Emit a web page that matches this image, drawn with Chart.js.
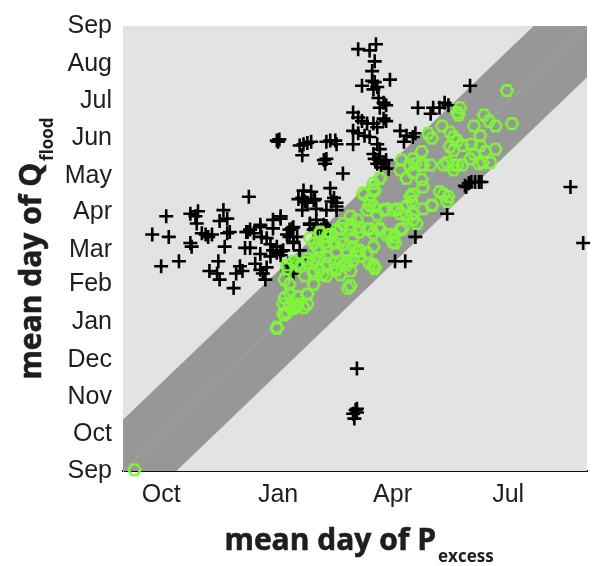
<!DOCTYPE html>
<html>
<head>
<meta charset="utf-8">
<script src="https://cdn.jsdelivr.net/npm/chart.js@4/dist/chart.umd.min.js"></script>
<style>
  body { margin: 0; background: #fff; }
  #wrap { width: 598px; height: 566px; position: relative; }
</style>
</head>
<body>
<div id="wrap"><canvas id="chart-area"></canvas></div>
<script>
// days counted from 1 Sep (water year)
var monthDays = [0, 30, 61, 91, 122, 153, 181, 212, 242, 273, 303, 334, 365];
var monthNames = ['Sep', 'Oct', 'Nov', 'Dec', 'Jan', 'Feb', 'Mar', 'Apr', 'May', 'Jun', 'Jul', 'Aug', 'Sep'];
var xTickDays = [30, 122, 212, 303];
var xTickNames = ['Oct', 'Jan', 'Apr', 'Jul'];

// half width of the grey band around the 1:1 line (days)
var bandHalfWidth = 42;

// black crosses: mean day of P_excess (x) vs mean day of Q_flood (y)
var crossX = [185, 199, 194, 198, 196, 188, 196, 198, 210, 200, 197, 201, 205, 207, 202, 181, 185, 188, 192, 197,
  200, 205, 207, 218, 223, 228, 221, 230, 232, 244, 242, 253, 249, 256, 273, 181, 185, 190, 194, 200,
  202, 197, 198, 202, 205, 207, 200, 203, 209, 173, 121, 123, 122, 139, 142, 145, 148, 141, 160, 163,
  167, 168, 181, 158, 160, 159, 34, 23, 36, 30, 44, 53, 59, 57, 58, 53, 54, 62, 65, 67,
  70, 79, 76, 82, 82, 84, 80, 75, 68, 74, 76, 87, 89, 92, 99, 97, 100, 103, 96, 108,
  109, 113, 118, 124, 121, 118, 121, 116, 124, 126, 108, 110, 113, 131, 134, 131, 134, 137, 139, 142,
  145, 148, 150, 141, 152, 163, 166, 168, 160, 168, 147, 150, 152, 158, 160, 156, 129, 134, 130, 230,
  255, 214, 222, 269, 272, 274, 277, 280, 282, 270, 352, 362, 184, 183, 184, 181, 184, 182,
  138, 143, 151, 164, 168, 141, 124, 118, 108, 98, 129, 133, 134, 124, 116, 108, 100, 94, 112, 104,
  147, 153, 161, 139, 130];
var crossY = [346, 350, 345, 336, 328, 316, 320, 319, 321, 315, 313, 306, 302, 300, 298, 294, 290, 287, 285, 285,
  282, 289, 287, 279, 275, 274, 270, 277, 298, 298, 293, 302, 298, 300, 316, 279, 277, 275, 274, 268,
  264, 260, 256, 258, 253, 255, 252, 249, 248, 244, 271, 272, 270, 267, 268, 269, 270, 259, 270, 271,
  271, 268, 268, 255, 256, 252, 209, 194, 192, 168, 172, 211, 213, 209, 203, 187, 184, 195, 194, 192,
  194, 214, 205, 207, 195, 196, 184, 172, 164, 162, 157, 150, 162, 168, 225, 196, 198, 195, 183, 200,
  192, 191, 206, 209, 184, 181, 179, 176, 177, 181, 165, 162, 167, 198, 200, 192, 187, 192, 181, 230,
  220, 229, 222, 224, 215, 232, 224, 220, 214, 214, 203, 198, 206, 202, 201, 198, 165, 162, 169, 192,
  211, 172, 172, 234, 236, 237, 237, 237, 237, 233, 233, 187, 84, 50, 51, 47, 48, 43,
  223, 221, 223, 221, 217, 214, 207, 199, 202, 196, 194, 199, 188, 180, 186, 178, 183, 164, 157, 170,
  202, 199, 199, 174, 170];

// green hexagons
var hexX = [9, 302, 306, 265, 263, 264, 251, 240, 243, 235, 257, 260, 263, 257, 260, 267, 276, 284, 288, 293,
  281, 274, 281, 285, 293, 289, 280, 276, 255, 260, 267, 260, 219, 225, 230, 235, 242, 218, 223, 228,
  235, 236, 249, 256, 243, 226, 227, 228, 231, 197, 202, 189, 198, 194, 197, 192, 200, 207, 213, 218,
  223, 179, 184, 173, 168, 179, 186, 192, 197, 202, 207, 213, 218, 214, 155, 160, 150, 155, 160, 166,
  171, 176, 181, 186, 192, 197, 129, 134, 139, 145, 150, 155, 160, 166, 171, 176, 181, 186, 168, 171,
  179, 198, 197, 127, 143, 150, 155, 160, 177, 131, 137, 145, 145, 126, 129, 134, 137, 127, 131, 121,
  189, 197, 202, 194, 205, 216, 223, 228, 220, 210, 202, 194, 186, 179, 181, 173, 168, 160, 153, 145,
  137, 129, 131, 127, 137, 142, 126, 121, 179, 198, 194, 212, 228, 236, 228, 236, 252, 263, 273, 283,
  243, 252, 255, 171, 163, 155, 147, 184, 176, 168, 160, 157, 150, 150, 145];
var hexY = [1, 312, 285, 298, 294, 292, 283, 277, 273, 262, 278, 274, 271, 266, 263, 267, 283, 292, 287, 283,
  275, 268, 267, 262, 264, 253, 252, 260, 253, 251, 251, 247, 255, 251, 252, 251, 251, 247, 240, 245,
  239, 233, 229, 225, 218, 225, 221, 211, 203, 236, 240, 228, 230, 222, 217, 214, 210, 215, 214, 211,
  217, 209, 206, 203, 198, 198, 200, 198, 195, 198, 194, 192, 198, 187, 195, 192, 187, 181, 184, 187,
  190, 181, 184, 181, 179, 184, 169, 172, 168, 171, 173, 175, 176, 171, 172, 169, 173, 176, 165, 161,
  164, 167, 169, 157, 160, 162, 165, 160, 150, 146, 143, 145, 137, 137, 130, 133, 135, 128, 135, 118,
  227, 231, 240, 218, 214, 215, 210, 206, 199, 194, 199, 199, 196, 202, 191, 186, 180, 188, 183, 174,
  170, 166, 153, 142, 137, 134, 129, 117, 152, 166, 170, 188, 227, 215, 256, 251, 251, 251, 256, 253,
  218, 227, 221, 199, 194, 196, 191, 180, 172, 166, 170, 161, 164, 153, 145];

var crossPoints = crossX.map(function(v, i) { return {x: v, y: crossY[i]}; });
var hexPoints = hexX.map(function(v, i) { return {x: v, y: hexY[i]}; });

var hexColor = '#80f53a';
function makeHexagon(r, lw, color) {
  var size = Math.ceil(2 * r + lw + 2);
  var c = document.createElement('canvas');
  c.width = size; c.height = size;
  var g = c.getContext('2d');
  g.strokeStyle = color;
  g.lineWidth = lw;
  g.lineJoin = 'miter';
  g.beginPath();
  for (var i = 0; i < 6; i++) {
    var a = Math.PI / 3 * i;
    var px = size / 2 + r * Math.cos(a), py = size / 2 + r * Math.sin(a);
    if (i === 0) g.moveTo(px, py); else g.lineTo(px, py);
  }
  g.closePath();
  g.stroke();
  return c;
}
var hexImg = makeHexagon(6, 2.4, hexColor);

var bandPlugin = {
  id: 'band',
  beforeDatasetsDraw: function(chart) {
    var ctx = chart.ctx, a = chart.chartArea;
    var xs = chart.scales.x, ys = chart.scales.y;
    var lo = xs.min, hi = xs.max;
    ctx.save();
    ctx.fillStyle = '#e3e3e3';
    ctx.fillRect(a.left, a.top, a.right - a.left, a.bottom - a.top);
    ctx.beginPath();
    ctx.rect(a.left, a.top, a.right - a.left, a.bottom - a.top);
    ctx.clip();
    ctx.fillStyle = '#979797';
    ctx.beginPath();
    ctx.moveTo(xs.getPixelForValue(lo), ys.getPixelForValue(lo + bandHalfWidth));
    ctx.lineTo(xs.getPixelForValue(hi - bandHalfWidth), ys.getPixelForValue(hi));
    ctx.lineTo(xs.getPixelForValue(hi), ys.getPixelForValue(hi));
    ctx.lineTo(xs.getPixelForValue(hi), ys.getPixelForValue(hi - bandHalfWidth));
    ctx.lineTo(xs.getPixelForValue(lo + bandHalfWidth), ys.getPixelForValue(lo));
    ctx.lineTo(xs.getPixelForValue(lo), ys.getPixelForValue(lo));
    ctx.closePath();
    ctx.fill();
    // faint 1:1 line
    ctx.strokeStyle = '#a6a6a6';
    ctx.lineWidth = 1;
    ctx.beginPath();
    ctx.moveTo(xs.getPixelForValue(lo), ys.getPixelForValue(lo));
    ctx.lineTo(xs.getPixelForValue(hi), ys.getPixelForValue(hi));
    ctx.stroke();
    ctx.restore();
  }
};

var titlePlugin = {
  id: 'titles',
  afterDraw: function(chart) {
    var ctx = chart.ctx, a = chart.chartArea;
    var mainFont = 'bold 30px "Open Sans"', subFont = 'bold 17px "Open Sans"';
    function drawTitle(main, sub, cx, baseY) {
      ctx.font = mainFont;
      var w1 = ctx.measureText(main).width;
      ctx.font = subFont;
      var w2 = ctx.measureText(sub).width;
      var x0 = cx - (w1 + w2 + 2) / 2;
      ctx.fillStyle = '#1e1e1e';
      ctx.strokeStyle = '#1e1e1e';
      ctx.lineWidth = 0.6;
      ctx.textBaseline = 'alphabetic';
      ctx.textAlign = 'left';
      ctx.font = mainFont;
      ctx.fillText(main, x0, baseY);
      ctx.strokeText(main, x0, baseY);
      ctx.font = subFont;
      ctx.fillText(sub, x0 + w1 + 2, baseY + 12);
    }
    ctx.save();
    drawTitle('mean day of P', 'excess', 359, 550);
    ctx.restore();
    ctx.save();
    ctx.translate(41, (a.top + a.bottom) / 2);
    ctx.rotate(-Math.PI / 2);
    drawTitle('mean day of Q', 'flood', 0, 0);
    ctx.restore();
  }
};

var config = {
  type: 'scatter',
  data: {
    datasets: [{
      label: 'hexagons',
      data: hexPoints,
      pointStyle: hexImg,
      pointRadius: 7,
      borderColor: hexColor,
      backgroundColor: 'rgba(0,0,0,0)',
      clip: false
    }, {
      label: 'crosses',
      data: crossPoints,
      pointStyle: 'cross',
      pointRadius: 7,
      borderWidth: 2.6,
      borderColor: '#000',
      backgroundColor: '#000',
      clip: false
    }]
  },
  options: {
    responsive: true,
    maintainAspectRatio: false,
    animation: false,
    layout: { padding: { top: 22, right: 11, left: 0, bottom: 0 } },
    plugins: { legend: false, tooltip: { enabled: false }, title: { display: false } },
    scales: {
      x: {
        type: 'linear', min: 0, max: 365,
        afterFit: function(s) { s.height = 95; },
        afterBuildTicks: function(s) { s.ticks = xTickDays.map(function(v) { return {value: v}; }); },
        ticks: {
          padding: 9,
          color: '#1e1e1e',
          font: { family: '"Liberation Sans", Arial, sans-serif', size: 25 },
          maxRotation: 0,
          autoSkip: false,
          callback: function(v) { return xTickNames[xTickDays.indexOf(v)]; }
        },
        grid: { display: false, drawTicks: false },
        border: { display: true, color: '#111', width: 2 }
      },
      y: {
        type: 'linear', min: 0, max: 365,
        afterFit: function(s) { s.width = 123; },
        afterBuildTicks: function(s) { s.ticks = monthDays.map(function(v) { return {value: v}; }); },
        ticks: {
          padding: 11,
          color: '#1e1e1e',
          font: { family: '"Liberation Sans", Arial, sans-serif', size: 25 },
          autoSkip: false,
          callback: function(v) { return monthNames[monthDays.indexOf(v)]; }
        },
        grid: { display: false, drawTicks: false },
        border: { display: true, color: '#d0d0d0', width: 1 }
      }
    }
  },
  plugins: [bandPlugin, titlePlugin]
};

window.onload = function() {
  var ctx = document.getElementById('chart-area').getContext('2d');
  window.myScatter = new Chart(ctx, config);
};
</script>
</body>
</html>
